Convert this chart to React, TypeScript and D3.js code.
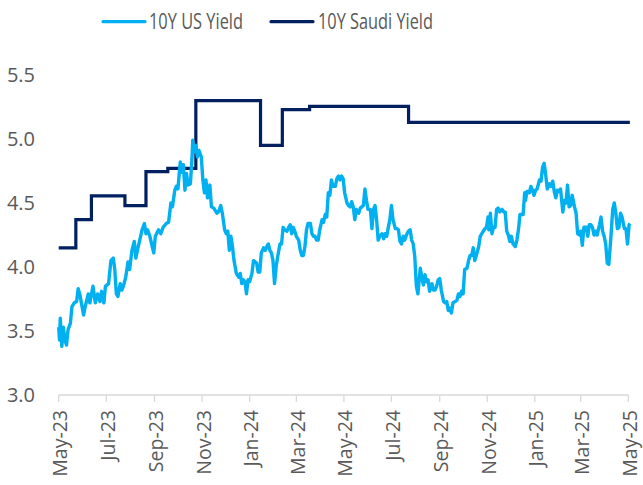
import React from 'react';
import * as d3 from 'd3';

const seriesNames = ['10Y US Yield', '10Y Saudi Yield'];
const seriesColors = ['#00B0F0', '#002060'];

const usDates = [
  '2023-05-01','2023-05-02','2023-05-03','2023-05-05','2023-05-07','2023-05-09','2023-05-11','2023-05-13','2023-05-16','2023-05-18',
  '2023-05-21','2023-05-24','2023-05-26','2023-05-28','2023-05-31','2023-06-02','2023-06-04','2023-06-08','2023-06-10','2023-06-14',
  '2023-06-17','2023-06-20','2023-06-23','2023-06-25','2023-06-28','2023-06-30','2023-07-04','2023-07-07','2023-07-10','2023-07-12',
  '2023-07-14','2023-07-16','2023-07-19','2023-07-21','2023-07-23','2023-07-26','2023-07-29','2023-07-31','2023-08-03','2023-08-06',
  '2023-08-08','2023-08-10','2023-08-13','2023-08-16','2023-08-19','2023-08-21','2023-08-23','2023-08-26','2023-08-29','2023-08-31',
  '2023-09-02','2023-09-06','2023-09-09','2023-09-12','2023-09-16','2023-09-19','2023-09-22','2023-09-24','2023-09-27','2023-09-29',
  '2023-10-01','2023-10-04','2023-10-06','2023-10-08','2023-10-10','2023-10-12','2023-10-14','2023-10-17','2023-10-19','2023-10-20',
  '2023-10-22','2023-10-24','2023-10-26','2023-10-28','2023-10-31','2023-11-02','2023-11-04','2023-11-06','2023-11-08','2023-11-11',
  '2023-11-13','2023-11-16','2023-11-20','2023-11-22','2023-11-25','2023-11-27','2023-11-30','2023-12-02','2023-12-04','2023-12-06',
  '2023-12-08','2023-12-10','2023-12-12','2023-12-15','2023-12-18','2023-12-20','2023-12-22','2023-12-24','2023-12-26','2023-12-28',
  '2023-12-30','2024-01-01','2024-01-04','2024-01-06','2024-01-08','2024-01-10','2024-01-12','2024-01-14','2024-01-16','2024-01-19',
  '2024-01-21','2024-01-23','2024-01-25','2024-01-27','2024-01-29','2024-01-31','2024-02-02','2024-02-04','2024-02-06','2024-02-09',
  '2024-02-11','2024-02-13','2024-02-15','2024-02-18','2024-02-20','2024-02-22','2024-02-24','2024-02-26','2024-02-28','2024-03-01',
  '2024-03-04','2024-03-06','2024-03-08','2024-03-10','2024-03-12','2024-03-14','2024-03-16','2024-03-19','2024-03-21','2024-03-23',
  '2024-03-25','2024-03-27','2024-03-29','2024-03-31','2024-04-03','2024-04-05','2024-04-07','2024-04-09','2024-04-11','2024-04-13',
  '2024-04-15','2024-04-17','2024-04-20','2024-04-22','2024-04-24','2024-04-26','2024-04-28','2024-04-30','2024-05-02','2024-05-05',
  '2024-05-07','2024-05-09','2024-05-11','2024-05-13','2024-05-15','2024-05-17','2024-05-20','2024-05-22','2024-05-24','2024-05-26',
  '2024-05-28','2024-05-30','2024-06-01','2024-06-04','2024-06-06','2024-06-08','2024-06-10','2024-06-12','2024-06-14','2024-06-16',
  '2024-06-19','2024-06-21','2024-06-23','2024-06-25','2024-06-27','2024-06-29','2024-07-01','2024-07-03','2024-07-06','2024-07-08',
  '2024-07-10','2024-07-12','2024-07-14','2024-07-16','2024-07-18','2024-07-21','2024-07-23','2024-07-25','2024-07-27','2024-07-29',
  '2024-07-31','2024-08-02','2024-08-04','2024-08-07','2024-08-09','2024-08-11','2024-08-13','2024-08-15','2024-08-17','2024-08-19',
  '2024-08-22','2024-08-24','2024-08-26','2024-08-28','2024-08-30','2024-09-01','2024-09-03','2024-09-06','2024-09-08','2024-09-10',
  '2024-09-12','2024-09-14','2024-09-16','2024-09-18','2024-09-21','2024-09-23','2024-09-25','2024-09-27','2024-09-29','2024-10-01',
  '2024-10-03','2024-10-06','2024-10-08','2024-10-10','2024-10-12','2024-10-14','2024-10-16','2024-10-18','2024-10-21','2024-10-23',
  '2024-10-25','2024-10-27','2024-10-29','2024-10-31','2024-11-02','2024-11-03','2024-11-05','2024-11-07','2024-11-09','2024-11-11',
  '2024-11-13','2024-11-15','2024-11-17','2024-11-20','2024-11-22','2024-11-24','2024-11-26','2024-11-28','2024-11-30','2024-12-02',
  '2024-12-04','2024-12-07','2024-12-09','2024-12-11','2024-12-13','2024-12-15','2024-12-17','2024-12-19','2024-12-20','2024-12-22',
  '2024-12-25','2024-12-27','2024-12-29','2024-12-31','2025-01-02','2025-01-04','2025-01-07','2025-01-09','2025-01-11','2025-01-13',
  '2025-01-15','2025-01-17','2025-01-20','2025-01-22','2025-01-24','2025-01-26','2025-01-28','2025-01-30','2025-02-01','2025-02-03',
  '2025-02-06','2025-02-08','2025-02-10','2025-02-12','2025-02-14','2025-02-16','2025-02-18','2025-02-21','2025-02-23','2025-02-25',
  '2025-02-27','2025-03-01','2025-03-03','2025-03-05','2025-03-08','2025-03-10','2025-03-12','2025-03-14','2025-03-16','2025-03-18',
  '2025-03-20','2025-03-22','2025-03-25','2025-03-27','2025-03-29','2025-03-31','2025-04-02','2025-04-04','2025-04-06','2025-04-09',
  '2025-04-11','2025-04-13','2025-04-15','2025-04-17','2025-04-19','2025-04-21','2025-04-23','2025-04-26','2025-04-28','2025-04-30',
  '2025-05-02','2025-05-03'
];

const usYield = [
  3.53,3.43,3.60,3.38,3.53,3.43,3.39,3.51,3.56,3.69,
  3.72,3.73,3.83,3.79,3.69,3.625,3.69,3.79,3.72,3.85,
  3.72,3.79,3.73,3.81,3.72,3.85,3.87,4.05,4.07,3.98,
  3.79,3.77,3.87,3.82,3.85,3.92,4.04,3.98,4.13,4.20,
  4.07,4.13,4.21,4.29,4.34,4.26,4.29,4.24,4.16,4.11,
  4.24,4.29,4.26,4.31,4.34,4.35,4.50,4.47,4.60,4.63,
  4.61,4.82,4.74,4.80,4.60,4.73,4.64,4.65,4.84,4.99,
  4.90,4.95,4.86,4.91,4.86,4.68,4.58,4.68,4.54,4.64,
  4.47,4.46,4.42,4.43,4.48,4.42,4.29,4.26,4.28,4.13,
  4.24,4.16,4.05,3.95,3.92,3.95,3.87,3.90,3.885,3.79,
  3.90,3.885,3.95,4.05,4.04,4.03,3.96,3.96,4.11,4.15,
  4.13,4.16,4.18,4.13,4.11,4.05,3.87,4.00,4.08,4.18,
  4.18,4.31,4.29,4.28,4.31,4.33,4.26,4.31,4.28,4.24,
  4.21,4.13,4.09,4.09,4.16,4.29,4.34,4.34,4.26,4.24,
  4.24,4.21,4.21,4.29,4.37,4.35,4.41,4.39,4.58,4.56,
  4.68,4.63,4.63,4.69,4.71,4.68,4.71,4.69,4.58,4.50,
  4.48,4.47,4.51,4.47,4.37,4.45,4.42,4.46,4.47,4.48,
  4.61,4.52,4.45,4.45,4.30,4.45,4.48,4.37,4.21,4.24,
  4.26,4.22,4.26,4.24,4.31,4.37,4.48,4.37,4.30,4.30,
  4.29,4.20,4.18,4.24,4.21,4.26,4.28,4.29,4.21,4.18,
  4.08,3.85,3.79,3.99,3.92,3.86,3.94,3.885,3.90,3.81,
  3.87,3.82,3.82,3.85,3.90,3.91,3.82,3.73,3.72,3.73,
  3.66,3.68,3.64,3.72,3.73,3.74,3.79,3.77,3.81,3.79,
  3.98,3.99,4.05,4.09,4.09,4.15,4.05,4.09,4.16,4.24,
  4.26,4.28,4.30,4.31,4.39,4.29,4.42,4.26,4.31,4.31,
  4.45,4.46,4.43,4.45,4.43,4.43,4.28,4.25,4.20,4.24,
  4.18,4.16,4.21,4.29,4.41,4.41,4.41,4.58,4.52,4.59,
  4.58,4.63,4.60,4.56,4.60,4.61,4.68,4.67,4.78,4.81,
  4.72,4.61,4.65,4.63,4.67,4.59,4.54,4.60,4.59,4.61,
  4.43,4.52,4.50,4.64,4.47,4.48,4.56,4.47,4.42,4.26,
  4.25,4.28,4.17,4.31,4.31,4.24,4.33,4.33,4.31,4.25,
  4.28,4.25,4.33,4.39,4.28,4.24,4.18,4.03,4.02,4.26,
  4.45,4.50,4.42,4.30,4.31,4.42,4.39,4.30,4.30,4.18,
  4.33,4.34
];

const saudiDates = [
  '2023-05-01','2023-05-23','2023-06-12','2023-07-25','2023-08-21','2023-09-18',
  '2023-10-24','2024-01-15','2024-02-12','2024-03-18','2024-07-23','2025-05-03'
];
const saudiYield = [4.15, 4.37, 4.555, 4.48, 4.745, 4.77, 5.30, 4.95, 5.23, 5.255, 5.13, 5.13];

const yTicks = [3.0, 3.5, 4.0, 4.5, 5.0, 5.5];
const xTickDates = [
  '2023-05-01','2023-07-01','2023-09-01','2023-11-01','2024-01-01','2024-03-01',
  '2024-05-01','2024-07-01','2024-09-01','2024-11-01','2025-01-01','2025-03-01','2025-05-01'
];

const W = 643;
const H = 485;
const FONT = "'Open Sans', 'Noto Sans', sans-serif";
const TEXT = '#595959';

export default function App() {
  const parse = d3.timeParse('%Y-%m-%d');
  const x = d3
    .scaleTime()
    .domain([parse('2023-05-01') as Date, parse('2025-05-01') as Date])
    .range([58.7, 628.3]);
  const y = d3.scaleLinear().domain([3, 5.5]).range([395, 75]);
  const fmtX = d3.timeFormat('%b-%y');

  const us = usDates.map((d, i) => ({ d: parse(d) as Date, v: usYield[i] }));
  const sa = saudiDates.map((d, i) => ({ d: parse(d) as Date, v: saudiYield[i] }));

  const line = d3
    .line<{ d: Date; v: number }>()
    .x((p) => x(p.d))
    .y((p) => y(p.v));
  const stepLine = d3
    .line<{ d: Date; v: number }>()
    .x((p) => x(p.d))
    .y((p) => y(p.v))
    .curve(d3.curveStepAfter);

  const [x0, x1] = x.range();
  const legend = [
    { name: seriesNames[0], color: seriesColors[0], lx: 103, tx: 149, tl: 94 },
    { name: seriesNames[1], color: seriesColors[1], lx: 271, tx: 318, tl: 115 },
  ];

  return (
    <svg
      width={W}
      height={H}
      style={{ position: 'absolute', left: 0, top: 0, background: '#fff' }}
      fontFamily={FONT}
    >
      {/* legend */}
      {legend.map((l) => (
        <g key={l.name}>
          <line
            x1={l.lx}
            x2={l.lx + 42}
            y1={21.7}
            y2={21.7}
            stroke={l.color}
            strokeWidth={3.2}
            strokeLinecap="round"
          />
          <text
            x={l.tx}
            y={21.7}
            dy="0.36em"
            fontSize={21}
            fill={TEXT}
            textLength={l.tl}
            lengthAdjust="spacingAndGlyphs"
          >
            {l.name}
          </text>
        </g>
      ))}

      {/* y-axis labels */}
      {yTicks.map((t) => (
        <text
          key={t}
          x={35}
          y={y(t)}
          dy="0.36em"
          textAnchor="end"
          fontSize={20}
          fill={TEXT}
        >
          {d3.format('.1f')(t)}
        </text>
      ))}

      {/* x-axis */}
      <line x1={x0} x2={x1} y1={y(3)} y2={y(3)} stroke="#d9d9d9" strokeWidth={1.3} />
      {xTickDates.map((s) => {
        const d = parse(s) as Date;
        const px = x(d);
        return (
          <g key={s}>
            <line x1={px} x2={px} y1={y(3)} y2={y(3) + 7} stroke="#d9d9d9" strokeWidth={1.3} />
            <text
              transform={`translate(${px + 1.5},${y(3) + 15}) rotate(-90)`}
              dy="0.36em"
              textAnchor="end"
              fontSize={19.5}
              fill={TEXT}
            >
              {fmtX(d)}
            </text>
          </g>
        );
      })}

      {/* series */}
      <path d={stepLine(sa) || ''} fill="none" stroke={seriesColors[1]} strokeWidth={3.2} strokeLinejoin="miter" />
      <path d={line(us) || ''} fill="none" stroke={seriesColors[0]} strokeWidth={3.4} strokeLinejoin="round" />
    </svg>
  );
}
